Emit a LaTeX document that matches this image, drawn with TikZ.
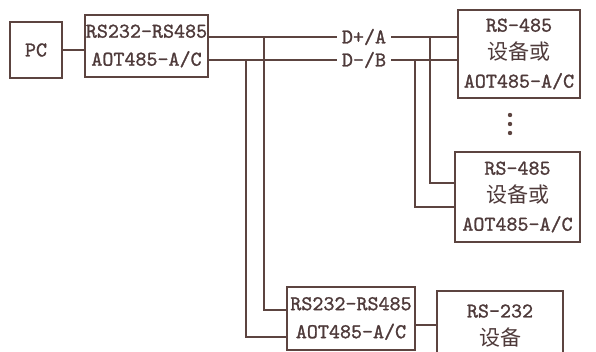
\documentclass[tikz,border=0pt]{standalone}
\usepackage{fontspec}
\newfontfamily\cjk{Noto Sans CJK SC}
\newfontfamily\codefont{lmmono10-regular.otf}[FakeBold=1.2]
\usepackage{tikz}
\usetikzlibrary{positioning,calc}
\definecolor{wire}{RGB}{92,68,64}
\definecolor{ink}{RGB}{78,58,58}

\tikzset{
  unit/.style={draw=wire, line width=1.6pt, text=ink, align=center, inner sep=0pt,
    font=\fontsize{21}{28}\selectfont\codefont},
  bus/.style={draw=wire, line width=1.6pt},
  sig/.style={text=ink, inner xsep=5pt, inner ysep=2pt, font=\fontsize{21}{24}\selectfont\codefont},
}

\begin{document}
\begin{tikzpicture}[x=1pt, y=-1pt]
\clip (0,0) rectangle (596,352);

% units
\node[unit, minimum width=52pt, minimum height=56pt] (pc) at (36,50) {PC};
\node[unit, minimum width=123pt, minimum height=62pt] (conv1) at (146.5,46) {RS232-RS485\\AOT485-A/C};
\node[unit, minimum width=122pt, minimum height=88pt] (dev1) at (519,54) {RS-485\\{\cjk 设备或}\\AOT485-A/C};
\node[unit, minimum width=125pt, minimum height=90pt] (dev2) at (517.5,197) {RS-485\\{\cjk 设备或}\\AOT485-A/C};
\node[unit, minimum width=128pt, minimum height=63pt] (conv2) at (351,318.5) {RS232-RS485\\AOT485-A/C};
\node[unit, minimum width=126pt, minimum height=70pt, anchor=north] (rs232) at (500,290) {RS-232\\{\cjk 设备}};

% bus labels
\node[sig] (dplus) at (364,37) {D+/A};
\node[sig] (dminus) at (364,60) {D-/B};

% taps
\coordinate (tapA) at (264,37);
\coordinate (tapB) at (246,60);
\coordinate (tapC) at (430,37);
\coordinate (tapD) at (415,60);

% wiring
\draw[bus] (pc.east) -- (pc.east -| conv1.west);
\draw[bus] (conv1.east |- dplus) -- (dplus.west);
\draw[bus] (conv1.east |- dminus) -- (dminus.west);
\draw[bus] (dplus.east) -- (dplus.east -| dev1.west);
\draw[bus] (dminus.east) -- (dminus.east -| dev1.west);
\draw[bus] (tapA) |- ([yshift=8.5pt]conv2.west);
\draw[bus] (tapB) |- ([yshift=-18.5pt]conv2.west);
\draw[bus] (tapC) |- ([yshift=14pt]dev2.west);
\draw[bus] (tapD) |- ([yshift=-10pt]dev2.west);
\draw[bus] ([yshift=-6.5pt]conv2.east) -- ([yshift=-6.5pt]conv2.east -| rs232.west);

% more devices
\foreach \y in {115,124,133}
  \fill[wire] (510,\y) circle (2.2pt);
\end{tikzpicture}
\end{document}
